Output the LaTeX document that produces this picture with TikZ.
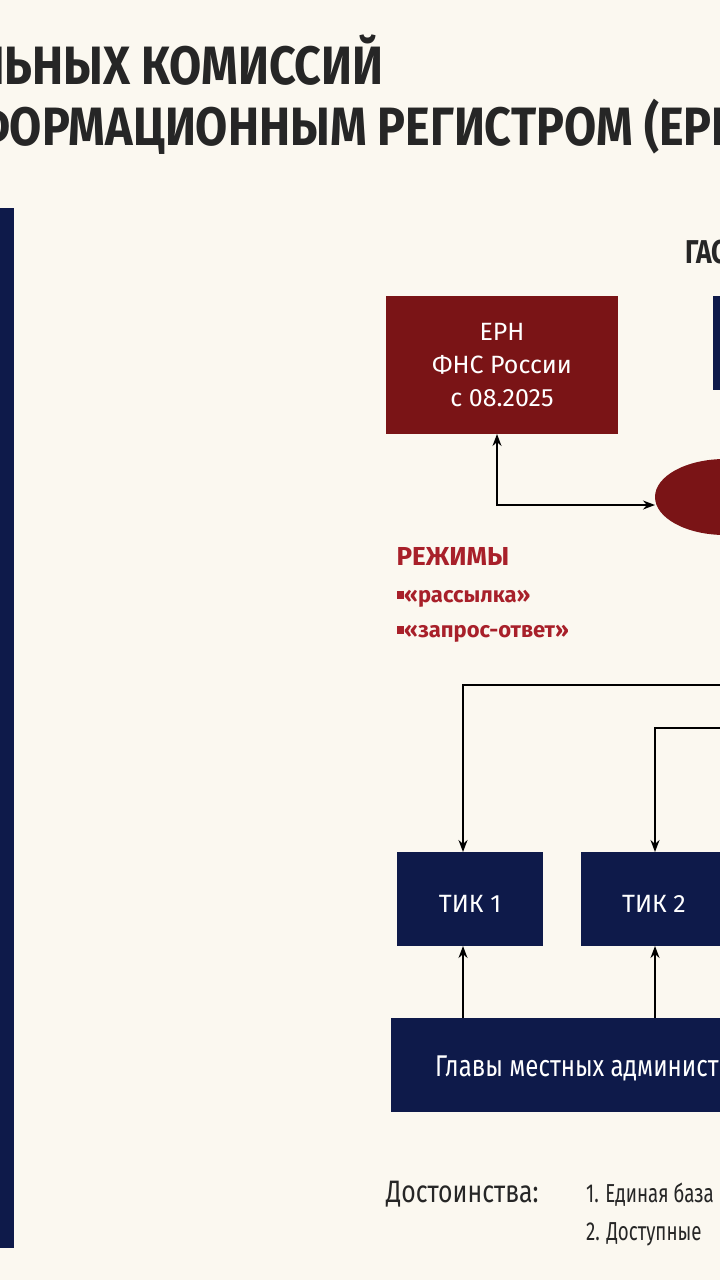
\documentclass[tikz,border=0pt]{standalone}
\usepackage{fontspec}
\setmainfont{Fira Sans}
\usetikzlibrary{arrows.meta}
\definecolor{paper}{HTML}{FBF8F0}
\definecolor{navy}{HTML}{0E1A4A}
\definecolor{wine}{HTML}{7A1416}
\definecolor{redtxt}{HTML}{A8202A}
\tikzset{>={Stealth[length=12pt,width=9pt]}}
\tikzset{%
    narrow/.style={transform shape, xscale=0.8, inner sep=0pt},
    navybox/.style={fill=navy, draw=none},
    winebox/.style={fill=wine, draw=none},
    link/.style={line width=1.6pt, black}
}
\begin{document}
\begin{tikzpicture}[x=1pt,y=-1pt]
\useasboundingbox (0,0) rectangle (720,1280);
\fill[paper] (0,0) rectangle (720,1280);
\clip (0,0) rectangle (720,1280);
\fill[navy] (0,208) rectangle (14,1248);

% heading
\node[narrow, xscale=1.08, anchor=base west, font=\bfseries\fontsize{54}{54}\selectfont, text=black!85] (head1) at (-26,84) {ЛЬНЫХ КОМИССИЙ};
\node[narrow, xscale=1.08, anchor=base west, font=\bfseries\fontsize{54}{54}\selectfont, text=black!85] (head2) at (-30,145) {ФОРМАЦИОННЫМ РЕГИСТРОМ (ЕРН)};
\node[narrow, anchor=base west, font=\bfseries\fontsize{33}{33}\selectfont, text=black!85] (gas) at (685,263) {ГАС};

% boxes
\fill[winebox] (386,296) rectangle (618,434);
\node[font=\fontsize{25}{33}\selectfont, text=white, align=center] (ern) at (502,365) {ЕРН\\ФНС России\\с 08.2025};
\fill[navybox] (713,296) rectangle (740,390);
\fill[wine] (725,497) ellipse (70 and 38);
\coordinate (ell) at (655,505);
\coordinate (ernb) at (497,434);

\fill[navybox] (397,852) rectangle (543,946);
\node[font=\fontsize{25}{25}\selectfont, text=white] (tik1) at (470,904) {ТИК 1};
\fill[navybox] (581,852) rectangle (740,946);
\node[font=\fontsize{25}{25}\selectfont, text=white] (tik2) at (654,904) {ТИК 2};
\fill[navybox] (391,1018) rectangle (740,1112);
\node[narrow, anchor=west, font=\fontsize{30}{30}\selectfont, text=white] (heads) at (435,1068) {Главы местных администраций};

% modes
\node[anchor=base west, font=\bfseries\fontsize{26}{26}\selectfont, text=redtxt] (modes) at (393,565) {РЕЖИМЫ};
\node[anchor=base west, font=\bfseries\fontsize{22}{22}\selectfont, text=redtxt] (mode1) at (393,602) {\rule[0.15em]{0.35em}{0.35em}«рассылка»};
\node[anchor=base west, font=\bfseries\fontsize{22}{22}\selectfont, text=redtxt] (mode2) at (393,637) {\rule[0.15em]{0.35em}{0.35em}«запрос-ответ»};

% connectors
\draw[link,<->] (ernb) |- (ell);
\draw[link,->] (730,685) -| (463,852);
\draw[link,->] (730,728) -| (655,852);
\draw[link,->] (463,1018) -- (463,946);
\draw[link,->] (655,1018) -- (655,946);

% merits
\node[narrow, anchor=base west, font=\fontsize{31}{31}\selectfont, text=black!85] (merit) at (386,1202) {Достоинства:};
\node[narrow, xscale=0.9, anchor=base west, font=\fontsize{26}{26}\selectfont, text=black!85] (m1) at (586,1202) {1. Единая база};
\node[narrow, xscale=0.9, anchor=base west, font=\fontsize{26}{26}\selectfont, text=black!85] (m2) at (586,1240) {2. Доступные};
\end{tikzpicture}
\end{document}
